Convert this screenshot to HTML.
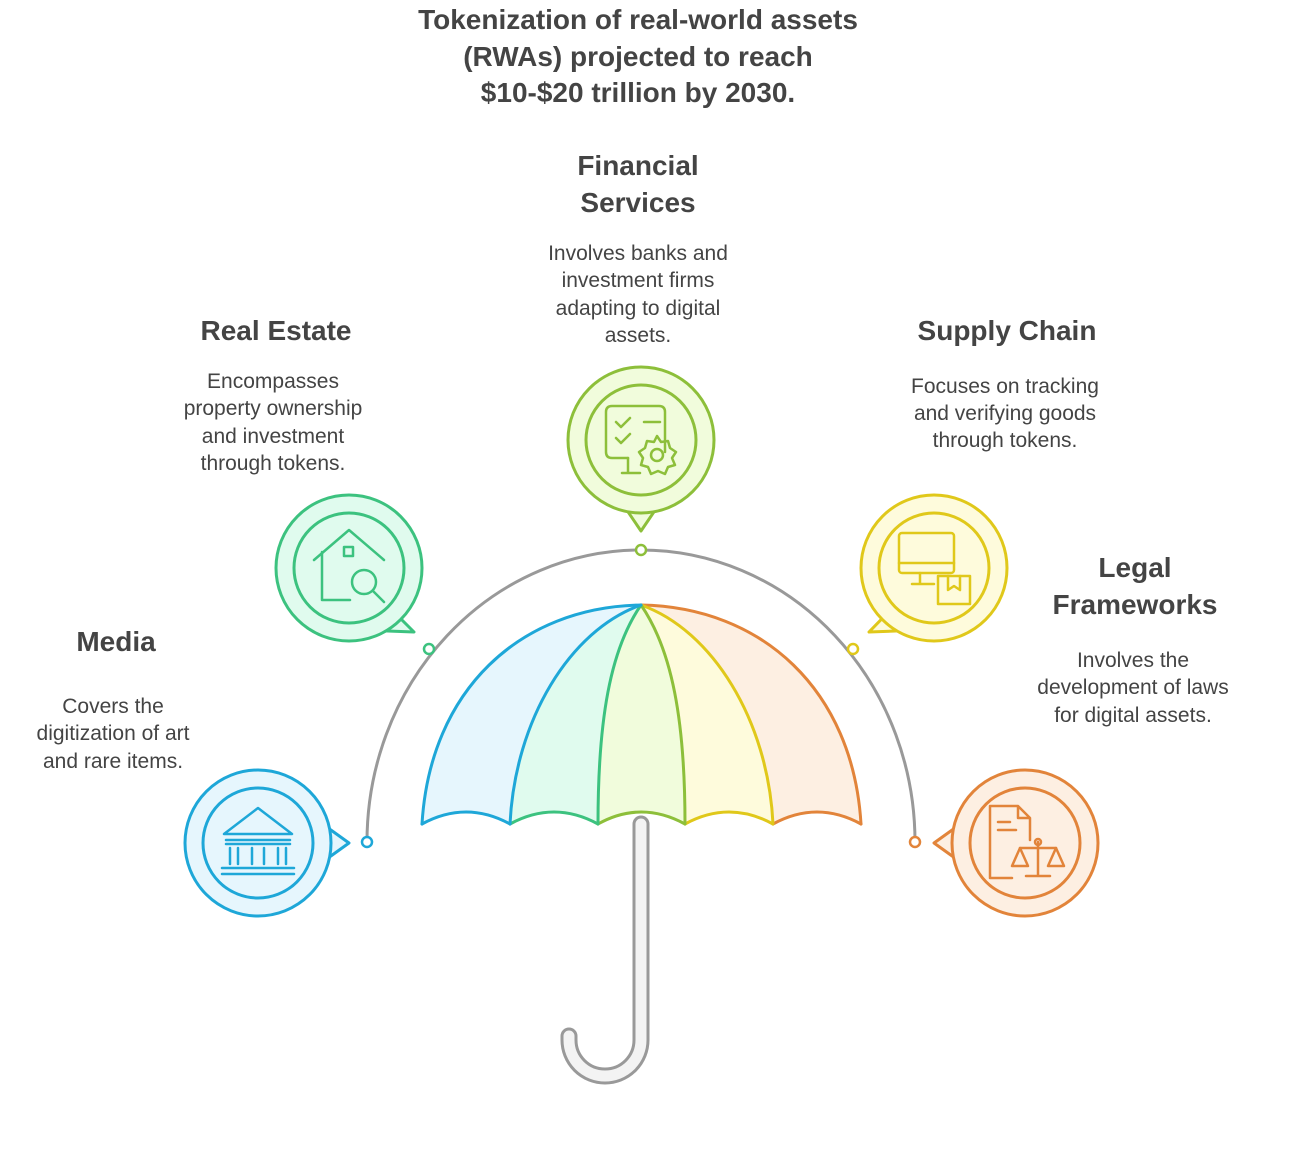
<!DOCTYPE html>
<html><head><meta charset="utf-8"><style>
body{margin:0;background:#fff;}
svg{display:block;font-family:"Liberation Sans",sans-serif;}
.t{font-weight:bold;font-size:28px;fill:#444;text-anchor:middle}
.d{font-size:21px;fill:#444;text-anchor:middle}
</style></head><body>
<svg width="1292" height="1155" viewBox="0 0 1292 1155">
<g class="t" style="font-size:28px">
<text x="638" y="29">Tokenization of real-world assets</text>
<text x="638" y="66">(RWAs) projected to reach</text>
<text x="638" y="102">$10-$20 trillion by 2030.</text>
</g>
<text class="t" x="638" y="175">Financial</text>
<text class="t" x="638" y="212">Services</text>
<g class="d"><text x="638" y="260">Involves banks and</text><text x="638" y="287">investment firms</text><text x="638" y="315">adapting to digital</text><text x="638" y="342">assets.</text></g>
<text class="t" x="276" y="340">Real Estate</text>
<g class="d"><text x="273" y="388">Encompasses</text><text x="273" y="415">property ownership</text><text x="273" y="443">and investment</text><text x="273" y="470">through tokens.</text></g>
<text class="t" x="1007" y="340">Supply Chain</text>
<g class="d"><text x="1005" y="393">Focuses on tracking</text><text x="1005" y="420">and verifying goods</text><text x="1005" y="447">through tokens.</text></g>
<text class="t" x="116" y="651">Media</text>
<g class="d"><text x="113" y="713">Covers the</text><text x="113" y="740">digitization of art</text><text x="113" y="768">and rare items.</text></g>
<text class="t" x="1135" y="577">Legal</text>
<text class="t" x="1135" y="614">Frameworks</text>
<g class="d"><text x="1133" y="667">Involves the</text><text x="1133" y="694">development of laws</text><text x="1133" y="722">for digital assets.</text></g>

<!-- outer arc -->
<path d="M367 842 A274 292 0 0 1 915 842" fill="none" stroke="#999" stroke-width="3"/>
<!-- shaft -->
<path d="M641 824 V1040 A36 36 0 0 1 569 1040 V1036" fill="none" stroke="#999" stroke-width="17" stroke-linecap="round"/>
<path d="M641 824 V1040 A36 36 0 0 1 569 1040 V1036" fill="none" stroke="#f3f3f3" stroke-width="11" stroke-linecap="round"/>
<!-- canopy fills -->
<g stroke="none">
<path d="M641 605 C520 607 430 690 422 824 Q466 800 510 824 C515 720 570 630 641 605Z" fill="#e6f6fd"/>
<path d="M641 605 C570 630 515 720 510 824 Q554 800 598 824 C598 720 610 650 641 605Z" fill="#e0fbee"/>
<path d="M641 605 C610 650 598 720 598 824 Q641 800 685 824 C685 720 672 650 641 605Z" fill="#f1fcdc"/>
<path d="M641 605 C672 650 685 720 685 824 Q729 800 773 824 C768 720 712 630 641 605Z" fill="#fefbdc"/>
<path d="M641 605 C712 630 768 720 773 824 Q817 800 861 824 C853 690 762 607 641 605Z" fill="#fdefe2"/>
</g>
<g fill="none" stroke-width="3" stroke-linecap="round">
<path d="M422 824 Q466 800 510 824" stroke="#1ea7d8"/>
<path d="M510 824 Q554 800 598 824" stroke="#3cc27f"/>
<path d="M598 824 Q641 800 685 824" stroke="#8dbf3a"/>
<path d="M685 824 Q729 800 773 824" stroke="#e0c81a"/>
<path d="M773 824 Q817 800 861 824" stroke="#e2843a"/>
<path d="M641 605 C762 607 853 690 861 824" stroke="#e2843a"/>
<path d="M641 605 C712 630 768 720 773 824" stroke="#e0c81a"/>
<path d="M641 605 C672 650 685 720 685 824" stroke="#8dbf3a"/>
<path d="M641 605 C610 650 598 720 598 824" stroke="#3cc27f"/>
<path d="M641 605 C570 630 515 720 510 824" stroke="#1ea7d8"/>
<path d="M641 605 C520 607 430 690 422 824" stroke="#1ea7d8"/>
</g>
<!-- dots -->
<circle cx="641" cy="550" r="5" fill="#fff" stroke="#8dbf3a" stroke-width="2.5"/>
<circle cx="429" cy="649" r="5" fill="#fff" stroke="#3cc27f" stroke-width="2.5"/>
<circle cx="853" cy="649" r="5" fill="#fff" stroke="#e0c81a" stroke-width="2.5"/>
<circle cx="367" cy="842" r="5" fill="#fff" stroke="#1ea7d8" stroke-width="2.5"/>
<circle cx="915" cy="842" r="5" fill="#fff" stroke="#e2843a" stroke-width="2.5"/>

<!-- bubbles -->
<g stroke-width="3" stroke-linejoin="round">
<g fill="#e6f6fd" stroke="#1ea7d8"><path d="M310 815 L349 843 L310 871Z"/><circle cx="258" cy="843" r="73"/><circle cx="258" cy="843" r="55" fill="none"/></g>
<g fill="#e0fbee" stroke="#3cc27f"><path d="M376 594 L414 632 L360 630Z"/><circle cx="349" cy="568" r="73"/><circle cx="349" cy="568" r="55" fill="none"/></g>
<g fill="#f1fcdc" stroke="#8dbf3a"><path d="M620 500 L641 531 L662 500Z"/><circle cx="641" cy="440" r="73"/><circle cx="641" cy="440" r="55" fill="none"/></g>
<g fill="#fefbdc" stroke="#e0c81a"><path d="M906 594 L869 632 L922 630Z"/><circle cx="934" cy="568" r="73"/><circle cx="934" cy="568" r="55" fill="none"/></g>
<g fill="#fdefe2" stroke="#e2843a"><path d="M973 815 L934 843 L973 871Z"/><circle cx="1025" cy="843" r="73"/><circle cx="1025" cy="843" r="55" fill="none"/></g>
</g>
<!-- icons -->
<g fill="none" stroke-width="2.5" stroke-linecap="round" stroke-linejoin="round">
<g stroke="#1ea7d8"><path d="M224 834 L258 808 L292 834 Z"/><path d="M226 840 H290 M226 844 H290 M222 868 H294 M222 874 H294"/><path d="M230 848 V864 M238 848 V864 M252 848 V864 M264 848 V864 M278 848 V864 M286 848 V864"/></g>
<g stroke="#3cc27f"><path d="M314 560 L349 530 L384 560"/><path d="M322 552 V600 H350"/><rect x="344" y="547" width="9" height="9"/><circle cx="364" cy="582" r="12"/><path d="M373 591 L384 602"/></g>
<g stroke="#8dbf3a"><path d="M665 452 V412 Q665 406 659 406 H612 Q606 406 606 412 V452 Q606 458 612 458 H628"/><path d="M628 458 V473 M622 473 H640"/><path d="M616 422 L621 427 L630 418 M616 438 L621 443 L630 434 M644 422 H660"/><circle cx="657" cy="455" r="6"/><path d="M657 436 L661 442 L668 441 L670 448 L676 452 L672 458 L675 465 L668 467 L665 474 L658 471 L651 474 L648 467 L641 465 L643 458 L639 452 L645 448 L647 441 L654 442Z"/></g>
<g stroke="#e0c81a"><rect x="899" y="533" width="55" height="40" rx="3"/><path d="M899 563 H954 M920 573 V584 M912 584 H934"/><rect x="938" y="576" width="32" height="28"/><path d="M948 576 V590 L954 586 L960 590 V576"/></g>
<g stroke="#e2843a"><path d="M1030 840 V818 L1018 806 H990 V878 H1012 M1018 806 V818 H1030"/><path d="M998 822 H1010 M998 830 H1016"/><path d="M1038 842 V876 M1026 876 H1050 M1020 848 H1056"/><circle cx="1038" cy="842" r="3"/><path d="M1020 848 L1012 866 H1028Z M1056 848 L1048 866 H1064Z"/></g>
</g>
</svg>
</body></html>
